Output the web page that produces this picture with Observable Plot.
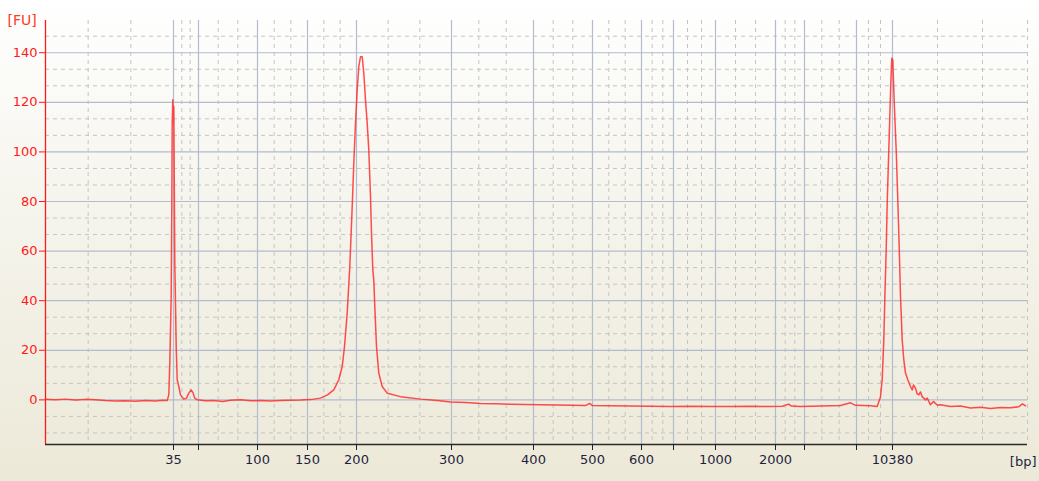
<!DOCTYPE html>
<html>
<head>
<meta charset="utf-8">
<script src="https://cdn.jsdelivr.net/npm/d3@7"></script>
<script src="https://cdn.jsdelivr.net/npm/@observablehq/plot@0.6"></script>
<style>
  html, body { margin: 0; padding: 0; }
  body { width: 1039px; height: 481px; background: linear-gradient(to bottom, #ffffff 0%, #f6f5ee 40%, #ece9d8 100%); font-family: "DejaVu Sans", Verdana, sans-serif; }
  #chart svg { display: block; }
</style>
</head>
<body>
<div id="chart"></div>
<script>
// Ladder (bp) and its migration time (s)
const ladderBp   = [35, 50, 100, 150, 200, 300, 400, 500, 600, 700, 1000, 2000, 3000, 7000, 10380];
const ladderTime = [38.8, 41.3, 47.2, 52.2, 57.1, 66.6, 74.8, 80.7, 85.6, 88.8, 93.0, 99.0, 101.9, 107.1, 110.7];
const labeledBp  = [35, 100, 150, 200, 300, 400, 500, 600, 1000, 2000, 10380];
const timeRange  = [26, 124.2];

// Fluorescence (FU) axis
const fuTicks = [0, 20, 40, 60, 80, 100, 120, 140];
const fuRange = [-18, 153];

// Electropherogram trace: time (s) and fluorescence (FU)
const traceTime = [26.0,27.0,28.0,29.0,30.0,31.0,32.0,33.0,34.0,35.0,36.0,37.0,37.7,38.17,38.33,38.43,38.57,38.63,38.67,38.73,38.78,38.83,38.87,38.93,39.0,39.07,39.17,39.33,39.5,39.83,40.1,40.33,40.57,40.77,40.93,41.17,42.0,42.8,43.7,44.5,45.5,46.5,47.5,48.5,49.5,50.5,51.5,52.5,53.5,54.2,54.83,55.33,55.67,55.9,56.17,56.43,56.67,56.83,57.0,57.17,57.33,57.5,57.67,57.83,58.0,58.17,58.33,58.5,58.6,58.73,58.83,58.93,59.1,59.33,59.67,60.17,61.5,63.5,65.2,66.5,68.0,69.5,71.0,72.5,74.0,75.5,77.0,78.5,80.0,80.4,80.7,82.5,84.5,86.5,88.5,90.5,92.5,94.5,96.5,98.5,99.7,100.3,100.6,101.5,103.5,105.5,106.5,107.0,108.5,109.17,109.5,109.67,109.83,109.93,110.07,110.17,110.33,110.43,110.53,110.63,110.73,110.83,110.93,111.07,111.23,111.37,111.5,111.67,111.83,112.0,112.23,112.5,112.67,112.8,113.0,113.15,113.33,113.5,113.67,114.0,114.17,114.5,114.8,115.2,115.5,116.5,117.5,118.5,119.5,120.5,121.5,122.5,123.3,123.7,124.0];
const traceFU   = [0.2,0.0,0.3,-0.1,0.2,0.0,-0.3,-0.5,-0.4,-0.6,-0.3,-0.5,-0.2,-0.3,2,14.8,41.7,79.3,111.6,121,112,118.3,92.7,55.1,39,21.5,8.1,5.4,2,0.3,0.7,2.7,4.0,2.7,0.7,0,-0.4,-0.3,-0.7,-0.2,0,-0.4,-0.3,-0.5,-0.3,-0.2,-0.1,0.1,0.7,2.0,4.0,8.1,13.4,21.5,35,53.8,77.9,95.4,111.6,125,134.4,138.4,138.4,131.7,121,111.6,100.8,82,67.2,52.4,48.4,37.6,21.5,10.8,5.4,2.7,1.3,0.3,-0.3,-0.9,-1.1,-1.5,-1.6,-1.8,-1.9,-2.0,-2.1,-2.2,-2.3,-1.4,-2.3,-2.4,-2.5,-2.6,-2.7,-2.6,-2.7,-2.7,-2.6,-2.7,-2.6,-1.7,-2.5,-2.7,-2.5,-2.3,-1.2,-2.2,-2.4,-2.7,1.3,8.1,24.2,40.3,60.5,79.3,100.8,114.2,127.7,137.8,137.1,125,114.2,100.8,80.6,61.8,41.7,24.2,16.1,10.8,8.1,5.4,4.0,6.0,4.7,2.5,2.0,3.2,1.3,0,0.7,-2,-0.7,-2.2,-2,-2.7,-2.5,-3.3,-3.0,-3.5,-3.1,-3.2,-2.8,-1.6,-2.4];

// Derived gridlines: minor lines at thirds between successive ladder positions / axis edges
const edges = [timeRange[0], ...ladderTime, timeRange[1]];
const xMinor = [];
for (let i = 0; i < edges.length - 1; i++) {
  const a = edges[i], b = edges[i + 1];
  xMinor.push(a + (b - a) / 3, a + 2 * (b - a) / 3);
}
xMinor.push(timeRange[1]);
const yMinor = [];
for (let v = -20; v <= 160; v += 20) {
  for (const f of [1 / 3, 2 / 3]) {
    const m = v + 20 * f;
    if (m > fuRange[0] && m < fuRange[1]) yMinor.push(m);
  }
}

const bpAt = new Map(ladderTime.map((t, i) => [t, ladderBp[i]]));
const labeled = new Set(labeledBp);

const chart = Plot.plot({
  width: 1039,
  height: 481,
  marginLeft: 45,
  marginRight: 12,
  marginTop: 20,
  marginBottom: 37,
  style: { background: "transparent", fontFamily: "'DejaVu Sans', Verdana, sans-serif", fontSize: "13px" },
  x: { type: "linear", domain: timeRange, axis: null },
  y: { domain: fuRange, axis: null },
  marks: [
    Plot.ruleY(yMinor, { stroke: "#c4c4c4", strokeWidth: 1, strokeDasharray: "4,4" }),
    Plot.ruleX(xMinor, { stroke: "#c4c4c4", strokeWidth: 1, strokeDasharray: "4,4" }),
    Plot.ruleY(fuTicks, { stroke: "#b3bccd", strokeWidth: 1.2 }),
    Plot.ruleX(ladderTime, { stroke: "#b3bccd", strokeWidth: 1.2 }),
    Plot.line(traceFU, { x: traceTime, y: traceFU, stroke: "#ff2e2e", strokeWidth: 1.5, strokeOpacity: 0.85 }),
    Plot.ruleX([timeRange[0]], { stroke: "#ff1a1a", strokeWidth: 1.3 }),
    Plot.ruleY([fuRange[0]], { stroke: "#2a2a2a", strokeWidth: 1.3 }),
    Plot.axisY({ ticks: fuTicks, tickSize: 6, tickPadding: 2, color: "#ff1a1a", label: null, fontSize: 13, tickFormat: d => String(d) }),
    Plot.axisX({ ticks: ladderTime, tickSize: 6, tickPadding: 4, color: "#1f1f3d", label: null, fontSize: 13,
      tickFormat: t => { const bp = bpAt.get(t); return labeled.has(bp) ? String(bp) : ""; } }),
    Plot.text(["[FU]"], { frameAnchor: "top-left", dx: -38, dy: 0, textAnchor: "start", lineAnchor: "middle", fill: "#ff3a1a", fontSize: 14 }),
    Plot.text(["[bp]"], { frameAnchor: "bottom-right", dx: 9, dy: 17, textAnchor: "end", lineAnchor: "middle", fill: "#1f1f3d", fontSize: 13 })
  ]
});
document.getElementById("chart").appendChild(chart);
</script>
</body>
</html>
